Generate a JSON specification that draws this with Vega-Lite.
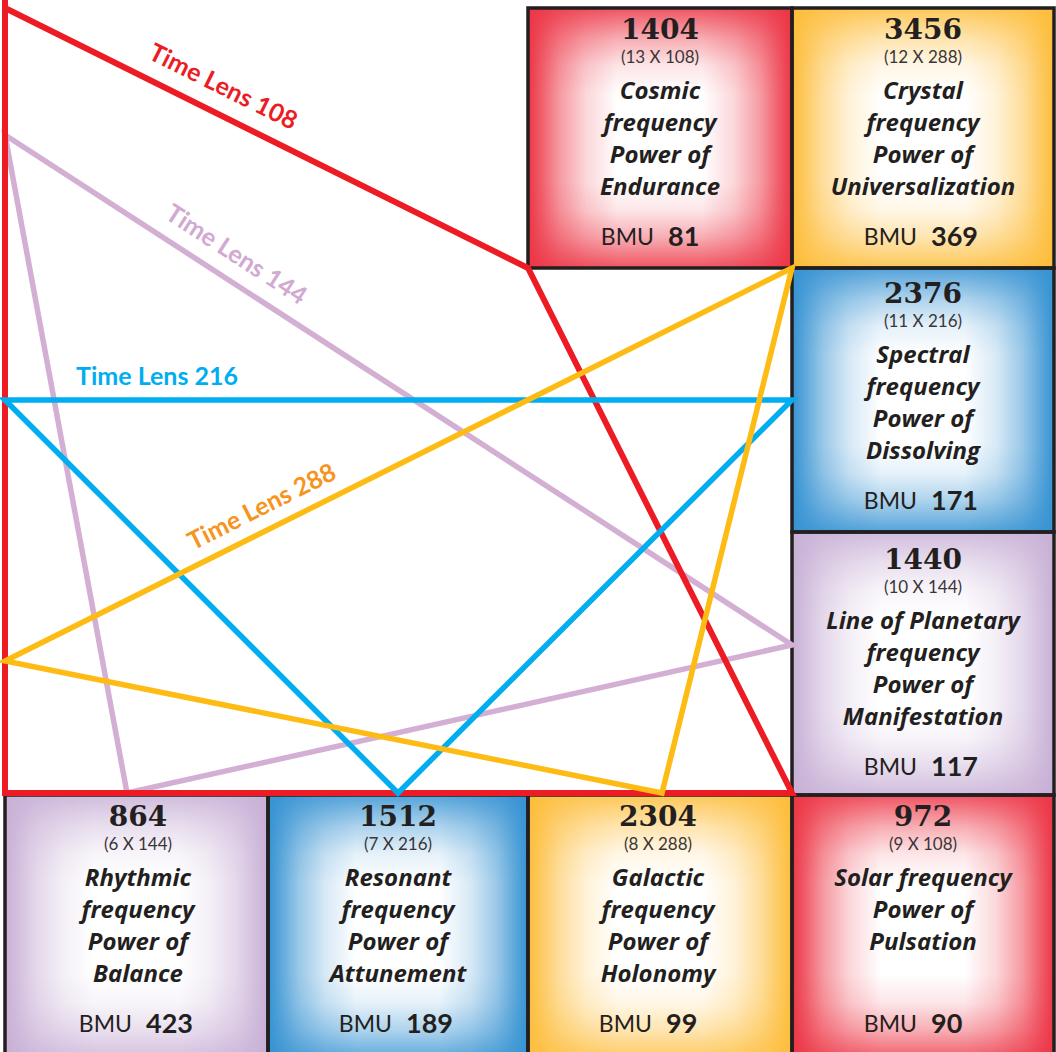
{
  "$schema": "https://vega.github.io/schema/vega-lite/v6.json",
  "width": 1056,
  "height": 1052,
  "autosize": {"type": "none"},
  "padding": 0,
  "background": "white",
  "config": {"view": {"stroke": null}},
  "datasets": {
    "boxes": [
      {"num": "1404", "mult": "(13 X 108)", "name": "Cosmic\nfrequency\nPower of\nEndurance", "bmu": "81", "c": "red", "x1": 528, "x2": 792, "y1": 8, "y2": 268, "cx": 660, "ty": 33},
      {"num": "3456", "mult": "(12 X 288)", "name": "Crystal\nfrequency\nPower of\nUniversalization", "bmu": "369", "c": "yellow", "x1": 792, "x2": 1054, "y1": 8, "y2": 268, "cx": 923, "ty": 33},
      {"num": "2376", "mult": "(11 X 216)", "name": "Spectral\nfrequency\nPower of\nDissolving", "bmu": "171", "c": "blue", "x1": 792, "x2": 1054, "y1": 268, "y2": 532, "cx": 923, "ty": 297},
      {"num": "1440", "mult": "(10 X 144)", "name": "Line of Planetary\nfrequency\nPower of\nManifestation", "bmu": "117", "c": "lavender", "x1": 792, "x2": 1054, "y1": 532, "y2": 795, "cx": 923, "ty": 563},
      {"num": "864", "mult": "(6 X 144)", "name": "Rhythmic\nfrequency\nPower of\nBalance", "bmu": "423", "c": "lavender", "x1": 5, "x2": 268, "y1": 795, "y2": 1062, "cx": 138, "ty": 820},
      {"num": "1512", "mult": "(7 X 216)", "name": "Resonant\nfrequency\nPower of\nAttunement", "bmu": "189", "c": "blue", "x1": 268, "x2": 528, "y1": 795, "y2": 1062, "cx": 398, "ty": 820},
      {"num": "2304", "mult": "(8 X 288)", "name": "Galactic\nfrequency\nPower of\nHolonomy", "bmu": "99", "c": "yellow", "x1": 528, "x2": 792, "y1": 795, "y2": 1062, "cx": 658, "ty": 820},
      {"num": "972", "mult": "(9 X 108)", "name": "Solar frequency\nPower of\nPulsation", "bmu": "90", "c": "red", "x1": 792, "x2": 1054, "y1": 795, "y2": 1062, "cx": 923, "ty": 820}
    ],
    "lines": [
      {"lens": "144", "seq": 1, "x": 5, "y": 135},
      {"lens": "144", "seq": 2, "x": 792, "y": 645},
      {"lens": "144", "seq": 3, "x": 127, "y": 793},
      {"lens": "144", "seq": 4, "x": 5, "y": 135},
      {"lens": "144", "seq": 5, "x": 792, "y": 645},
      {"lens": "108", "seq": 1, "x": 5, "y": 8},
      {"lens": "108", "seq": 2, "x": 528, "y": 268},
      {"lens": "108", "seq": 3, "x": 792, "y": 793},
      {"lens": "108", "seq": 4, "x": 5, "y": 793},
      {"lens": "108", "seq": 5, "x": 5, "y": 0},
      {"lens": "216", "seq": 1, "x": 5, "y": 400},
      {"lens": "216", "seq": 2, "x": 792, "y": 400},
      {"lens": "216", "seq": 3, "x": 398, "y": 793},
      {"lens": "216", "seq": 4, "x": 5, "y": 400},
      {"lens": "216", "seq": 5, "x": 792, "y": 400},
      {"lens": "288", "seq": 1, "x": 5, "y": 661},
      {"lens": "288", "seq": 2, "x": 792, "y": 268},
      {"lens": "288", "seq": 3, "x": 662, "y": 793},
      {"lens": "288", "seq": 4, "x": 5, "y": 661},
      {"lens": "288", "seq": 5, "x": 792, "y": 268}
    ],
    "labels": [
      {"lens": "108", "text": "Time Lens 108", "x": 223, "y": 87},
      {"lens": "144", "text": "Time Lens 144", "x": 236, "y": 255},
      {"lens": "216", "text": "Time Lens 216", "x": 157, "y": 377},
      {"lens": "288", "text": "Time Lens 288", "x": 262, "y": 507}
    ]
  },
  "layer": [
    {
      "data": {"name": "boxes"},
      "transform": [{"filter": "datum.c == 'red'"}],
      "mark": {"type": "rect", "fill": {"gradient": "linear", "x1": 0, "y1": 0, "x2": 1, "y2": 0, "stops": [
        {"offset": 0, "color": "#EC3545"}, {"offset": 0.05, "color": "#F05D6A"}, {"offset": 0.12, "color": "#F69AA2"}, {"offset": 0.22, "color": "#FBD7DA"}, {"offset": 0.34, "color": "#ffffff"},
        {"offset": 0.66, "color": "#ffffff"}, {"offset": 0.78, "color": "#FBD7DA"}, {"offset": 0.88, "color": "#F69AA2"}, {"offset": 0.95, "color": "#F05D6A"}, {"offset": 1, "color": "#EC3545"}]}},
      "encoding": {
        "x": {"field": "x1", "type": "quantitative", "scale": {"domain": [0, 1056], "nice": false, "zero": false}, "axis": null},
        "x2": {"field": "x2"},
        "y": {"field": "y1", "type": "quantitative", "scale": {"domain": [0, 1052], "nice": false, "zero": false, "reverse": true}, "axis": null},
        "y2": {"field": "y2"}
      }
    },
    {
      "data": {"name": "boxes"},
      "transform": [{"filter": "datum.c == 'yellow'"}],
      "mark": {"type": "rect", "fill": {"gradient": "linear", "x1": 0, "y1": 0, "x2": 1, "y2": 0, "stops": [
        {"offset": 0, "color": "#FDBD3A"}, {"offset": 0.05, "color": "#FDCA62"}, {"offset": 0.12, "color": "#FEDE9D"}, {"offset": 0.22, "color": "#FFF2D8"}, {"offset": 0.34, "color": "#ffffff"},
        {"offset": 0.66, "color": "#ffffff"}, {"offset": 0.78, "color": "#FFF2D8"}, {"offset": 0.88, "color": "#FEDE9D"}, {"offset": 0.95, "color": "#FDCA62"}, {"offset": 1, "color": "#FDBD3A"}]}},
      "encoding": {
        "x": {"field": "x1", "type": "quantitative", "axis": null}, "x2": {"field": "x2"},
        "y": {"field": "y1", "type": "quantitative", "axis": null}, "y2": {"field": "y2"}
      }
    },
    {
      "data": {"name": "boxes"},
      "transform": [{"filter": "datum.c == 'blue'"}],
      "mark": {"type": "rect", "fill": {"gradient": "linear", "x1": 0, "y1": 0, "x2": 1, "y2": 0, "stops": [
        {"offset": 0, "color": "#3592D2"}, {"offset": 0.05, "color": "#5DA8DB"}, {"offset": 0.12, "color": "#9AC8E8"}, {"offset": 0.22, "color": "#D7E9F6"}, {"offset": 0.34, "color": "#ffffff"},
        {"offset": 0.66, "color": "#ffffff"}, {"offset": 0.78, "color": "#D7E9F6"}, {"offset": 0.88, "color": "#9AC8E8"}, {"offset": 0.95, "color": "#5DA8DB"}, {"offset": 1, "color": "#3592D2"}]}},
      "encoding": {
        "x": {"field": "x1", "type": "quantitative", "axis": null}, "x2": {"field": "x2"},
        "y": {"field": "y1", "type": "quantitative", "axis": null}, "y2": {"field": "y2"}
      }
    },
    {
      "data": {"name": "boxes"},
      "transform": [{"filter": "datum.c == 'lavender'"}],
      "mark": {"type": "rect", "fill": {"gradient": "linear", "x1": 0, "y1": 0, "x2": 1, "y2": 0, "stops": [
        {"offset": 0, "color": "#C8B0D6"}, {"offset": 0.05, "color": "#D3C0DE"}, {"offset": 0.12, "color": "#E4D8EB"}, {"offset": 0.22, "color": "#F4EFF7"}, {"offset": 0.34, "color": "#ffffff"},
        {"offset": 0.66, "color": "#ffffff"}, {"offset": 0.78, "color": "#F4EFF7"}, {"offset": 0.88, "color": "#E4D8EB"}, {"offset": 0.95, "color": "#D3C0DE"}, {"offset": 1, "color": "#C8B0D6"}]}},
      "encoding": {
        "x": {"field": "x1", "type": "quantitative", "axis": null}, "x2": {"field": "x2"},
        "y": {"field": "y1", "type": "quantitative", "axis": null}, "y2": {"field": "y2"}
      }
    },
    {
      "data": {"name": "boxes"},
      "transform": [{"filter": "datum.c == 'red'"}],
      "mark": {"type": "rect", "fill": {"gradient": "linear", "x1": 0, "y1": 0, "x2": 0, "y2": 1, "stops": [
        {"offset": 0, "color": "rgba(236,53,69,0.85)"}, {"offset": 0.05, "color": "rgba(236,53,69,0.66)"}, {"offset": 0.12, "color": "rgba(236,53,69,0.4)"}, {"offset": 0.22, "color": "rgba(236,53,69,0.13)"}, {"offset": 0.33, "color": "rgba(236,53,69,0)"},
        {"offset": 0.67, "color": "rgba(236,53,69,0)"}, {"offset": 0.78, "color": "rgba(236,53,69,0.13)"}, {"offset": 0.88, "color": "rgba(236,53,69,0.4)"}, {"offset": 0.95, "color": "rgba(236,53,69,0.66)"}, {"offset": 1, "color": "rgba(236,53,69,0.85)"}]}},
      "encoding": {
        "x": {"field": "x1", "type": "quantitative", "axis": null}, "x2": {"field": "x2"},
        "y": {"field": "y1", "type": "quantitative", "axis": null}, "y2": {"field": "y2"}
      }
    },
    {
      "data": {"name": "boxes"},
      "transform": [{"filter": "datum.c == 'yellow'"}],
      "mark": {"type": "rect", "fill": {"gradient": "linear", "x1": 0, "y1": 0, "x2": 0, "y2": 1, "stops": [
        {"offset": 0, "color": "rgba(253,189,58,0.85)"}, {"offset": 0.05, "color": "rgba(253,189,58,0.66)"}, {"offset": 0.12, "color": "rgba(253,189,58,0.4)"}, {"offset": 0.22, "color": "rgba(253,189,58,0.13)"}, {"offset": 0.33, "color": "rgba(253,189,58,0)"},
        {"offset": 0.67, "color": "rgba(253,189,58,0)"}, {"offset": 0.78, "color": "rgba(253,189,58,0.13)"}, {"offset": 0.88, "color": "rgba(253,189,58,0.4)"}, {"offset": 0.95, "color": "rgba(253,189,58,0.66)"}, {"offset": 1, "color": "rgba(253,189,58,0.85)"}]}},
      "encoding": {
        "x": {"field": "x1", "type": "quantitative", "axis": null}, "x2": {"field": "x2"},
        "y": {"field": "y1", "type": "quantitative", "axis": null}, "y2": {"field": "y2"}
      }
    },
    {
      "data": {"name": "boxes"},
      "transform": [{"filter": "datum.c == 'blue'"}],
      "mark": {"type": "rect", "fill": {"gradient": "linear", "x1": 0, "y1": 0, "x2": 0, "y2": 1, "stops": [
        {"offset": 0, "color": "rgba(53,146,210,0.85)"}, {"offset": 0.05, "color": "rgba(53,146,210,0.66)"}, {"offset": 0.12, "color": "rgba(53,146,210,0.4)"}, {"offset": 0.22, "color": "rgba(53,146,210,0.13)"}, {"offset": 0.33, "color": "rgba(53,146,210,0)"},
        {"offset": 0.67, "color": "rgba(53,146,210,0)"}, {"offset": 0.78, "color": "rgba(53,146,210,0.13)"}, {"offset": 0.88, "color": "rgba(53,146,210,0.4)"}, {"offset": 0.95, "color": "rgba(53,146,210,0.66)"}, {"offset": 1, "color": "rgba(53,146,210,0.85)"}]}},
      "encoding": {
        "x": {"field": "x1", "type": "quantitative", "axis": null}, "x2": {"field": "x2"},
        "y": {"field": "y1", "type": "quantitative", "axis": null}, "y2": {"field": "y2"}
      }
    },
    {
      "data": {"name": "boxes"},
      "transform": [{"filter": "datum.c == 'lavender'"}],
      "mark": {"type": "rect", "fill": {"gradient": "linear", "x1": 0, "y1": 0, "x2": 0, "y2": 1, "stops": [
        {"offset": 0, "color": "rgba(200,176,214,0.85)"}, {"offset": 0.05, "color": "rgba(200,176,214,0.66)"}, {"offset": 0.12, "color": "rgba(200,176,214,0.4)"}, {"offset": 0.22, "color": "rgba(200,176,214,0.13)"}, {"offset": 0.33, "color": "rgba(200,176,214,0)"},
        {"offset": 0.67, "color": "rgba(200,176,214,0)"}, {"offset": 0.78, "color": "rgba(200,176,214,0.13)"}, {"offset": 0.88, "color": "rgba(200,176,214,0.4)"}, {"offset": 0.95, "color": "rgba(200,176,214,0.66)"}, {"offset": 1, "color": "rgba(200,176,214,0.85)"}]}},
      "encoding": {
        "x": {"field": "x1", "type": "quantitative", "axis": null}, "x2": {"field": "x2"},
        "y": {"field": "y1", "type": "quantitative", "axis": null}, "y2": {"field": "y2"}
      }
    },
    {
      "data": {"name": "boxes"},
      "mark": {"type": "rect", "filled": false, "color": "#231F20", "strokeWidth": 3.5},
      "encoding": {
        "x": {"field": "x1", "type": "quantitative", "axis": null}, "x2": {"field": "x2"},
        "y": {"field": "y1", "type": "quantitative", "axis": null}, "y2": {"field": "y2"}
      }
    },
    {
      "data": {"name": "lines"},
      "transform": [{"filter": "datum.lens == '144'"}],
      "mark": {"type": "line", "color": "#D3AFD3", "strokeWidth": 5.5, "strokeJoin": "miter"},
      "encoding": {
        "x": {"field": "x", "type": "quantitative", "axis": null},
        "y": {"field": "y", "type": "quantitative", "axis": null},
        "order": {"field": "seq", "type": "quantitative"}
      }
    },
    {
      "data": {"name": "lines"},
      "transform": [{"filter": "datum.lens == '108'"}],
      "mark": {"type": "line", "color": "#ED1C24", "strokeWidth": 6, "strokeJoin": "miter"},
      "encoding": {
        "x": {"field": "x", "type": "quantitative", "axis": null},
        "y": {"field": "y", "type": "quantitative", "axis": null},
        "order": {"field": "seq", "type": "quantitative"}
      }
    },
    {
      "data": {"name": "lines"},
      "transform": [{"filter": "datum.lens == '216'"}],
      "mark": {"type": "line", "color": "#00AEEF", "strokeWidth": 5.5, "strokeJoin": "miter"},
      "encoding": {
        "x": {"field": "x", "type": "quantitative", "axis": null},
        "y": {"field": "y", "type": "quantitative", "axis": null},
        "order": {"field": "seq", "type": "quantitative"}
      }
    },
    {
      "data": {"name": "lines"},
      "transform": [{"filter": "datum.lens == '288'"}],
      "mark": {"type": "line", "color": "#FDBB13", "strokeWidth": 5.5, "strokeJoin": "miter"},
      "encoding": {
        "x": {"field": "x", "type": "quantitative", "axis": null},
        "y": {"field": "y", "type": "quantitative", "axis": null},
        "order": {"field": "seq", "type": "quantitative"}
      }
    },
    {
      "data": {"name": "boxes"},
      "mark": {"type": "text", "font": "DejaVu Serif", "fontWeight": "bold", "fontSize": 28, "color": "#231F20", "baseline": "middle", "align": "center", "dy": -2},
      "encoding": {
        "x": {"field": "cx", "type": "quantitative", "axis": null},
        "y": {"field": "ty", "type": "quantitative", "axis": null},
        "text": {"field": "num"}
      }
    },
    {
      "data": {"name": "boxes"},
      "mark": {"type": "text", "font": "Lato", "fontSize": 17, "color": "#3a3638", "baseline": "middle", "align": "center", "dy": 25},
      "encoding": {
        "x": {"field": "cx", "type": "quantitative", "axis": null},
        "y": {"field": "ty", "type": "quantitative", "axis": null},
        "text": {"field": "mult"}
      }
    },
    {
      "data": {"name": "boxes"},
      "mark": {"type": "text", "font": "Open Sans", "fontWeight": "bold", "fontStyle": "italic", "fontSize": 24, "color": "#231F20", "baseline": "alphabetic", "align": "center", "dy": 66, "lineBreak": "\n", "lineHeight": 32},
      "encoding": {
        "x": {"field": "cx", "type": "quantitative", "axis": null},
        "y": {"field": "ty", "type": "quantitative", "axis": null},
        "text": {"field": "name"}
      }
    },
    {
      "data": {"name": "boxes"},
      "mark": {"type": "text", "font": "Lato", "fontSize": 23, "color": "#231F20", "baseline": "middle", "align": "right", "dx": -6, "dy": 205},
      "encoding": {
        "x": {"field": "cx", "type": "quantitative", "axis": null},
        "y": {"field": "ty", "type": "quantitative", "axis": null},
        "text": {"value": "BMU"}
      }
    },
    {
      "data": {"name": "boxes"},
      "mark": {"type": "text", "font": "Lato", "fontWeight": "bold", "fontSize": 27, "color": "#231F20", "baseline": "middle", "align": "left", "dx": 8, "dy": 205},
      "encoding": {
        "x": {"field": "cx", "type": "quantitative", "axis": null},
        "y": {"field": "ty", "type": "quantitative", "axis": null},
        "text": {"field": "bmu"}
      }
    },
    {
      "data": {"name": "labels"},
      "transform": [{"filter": "datum.lens == '108'"}],
      "mark": {"type": "text", "font": "Lato", "fontWeight": "bold", "fontSize": 25, "color": "#ED1C24", "angle": 26.4, "baseline": "middle", "align": "center"},
      "encoding": {
        "x": {"field": "x", "type": "quantitative", "axis": null},
        "y": {"field": "y", "type": "quantitative", "axis": null},
        "text": {"field": "text"}
      }
    },
    {
      "data": {"name": "labels"},
      "transform": [{"filter": "datum.lens == '144'"}],
      "mark": {"type": "text", "font": "Lato", "fontWeight": "bold", "fontSize": 25, "color": "#D1A9D1", "angle": 32.9, "baseline": "middle", "align": "center"},
      "encoding": {
        "x": {"field": "x", "type": "quantitative", "axis": null},
        "y": {"field": "y", "type": "quantitative", "axis": null},
        "text": {"field": "text"}
      }
    },
    {
      "data": {"name": "labels"},
      "transform": [{"filter": "datum.lens == '216'"}],
      "mark": {"type": "text", "font": "Lato", "fontWeight": "bold", "fontSize": 25, "color": "#00AEEF", "angle": 0, "baseline": "middle", "align": "center"},
      "encoding": {
        "x": {"field": "x", "type": "quantitative", "axis": null},
        "y": {"field": "y", "type": "quantitative", "axis": null},
        "text": {"field": "text"}
      }
    },
    {
      "data": {"name": "labels"},
      "transform": [{"filter": "datum.lens == '288'"}],
      "mark": {"type": "text", "font": "Lato", "fontWeight": "bold", "fontSize": 25, "color": "#F7941D", "angle": -26.6, "baseline": "middle", "align": "center"},
      "encoding": {
        "x": {"field": "x", "type": "quantitative", "axis": null},
        "y": {"field": "y", "type": "quantitative", "axis": null},
        "text": {"field": "text"}
      }
    }
  ]
}
